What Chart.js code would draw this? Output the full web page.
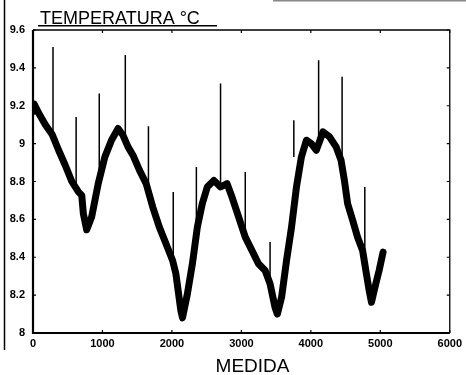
<!DOCTYPE html>
<html>
<head>
<meta charset="utf-8">
<script src="https://cdn.jsdelivr.net/npm/chart.js@4/dist/chart.umd.min.js"></script>
<style>
  html, body { margin: 0; padding: 0; background: #fff; }
  canvas { display: block; }
</style>
</head>
<body>
<canvas id="c" width="466" height="375"></canvas>
<script>
// ---- data ----
const measure = [0, 15, 83, 178, 274, 369, 464, 559, 654, 702, 725, 773, 844, 939, 1035, 1130, 1225, 1296, 1368, 1439, 1534, 1629, 1724, 1819, 1915, 2010, 2057, 2128, 2152, 2223, 2295, 2366, 2437, 2509, 2604, 2700, 2794, 2865, 2961, 3056, 3151, 3246, 3342, 3413, 3484, 3518, 3579, 3650, 3722, 3793, 3864, 3936, 4007, 4078, 4150, 4174, 4269, 4364, 4435, 4483, 4530, 4602, 4673, 4745, 4792, 4840, 4873, 4935, 4983, 5040];
const temperature = [9.17, 9.21, 9.16, 9.10, 9.05, 8.965, 8.886, 8.80, 8.745, 8.727, 8.63, 8.545, 8.612, 8.789, 8.93, 9.018, 9.08, 9.044, 8.983, 8.939, 8.859, 8.789, 8.665, 8.559, 8.471, 8.383, 8.313, 8.12, 8.08, 8.207, 8.366, 8.559, 8.683, 8.771, 8.806, 8.771, 8.789, 8.718, 8.612, 8.506, 8.436, 8.366, 8.33, 8.26, 8.136, 8.10, 8.189, 8.383, 8.559, 8.771, 8.93, 9.018, 9.00, 8.965, 9.036, 9.062, 9.036, 8.983, 8.912, 8.806, 8.683, 8.595, 8.506, 8.436, 8.33, 8.224, 8.162, 8.26, 8.33, 8.427];
const spikeAt   = [288, 621, 954, 1329, 1662, 2019, 2352, 2700, 3056, 3413, 3755, 4112, 4450, 4777];
const spikeLow  = [9.05, 8.76, 8.79, 9.04, 8.79, 8.38, 8.55, 8.78, 8.50, 8.26, 8.93, 9.03, 8.93, 8.33];
const spikeHigh = [9.51, 9.14, 9.265, 9.468, 9.092, 8.745, 8.877, 9.318, 8.85, 8.48, 9.124, 9.44, 9.353, 8.771];
const xTicks = [0, 1000, 2000, 3000, 4000, 5000, 6000];
const yTicks = [8, 8.2, 8.4, 8.6, 8.8, 9, 9.2, 9.4, 9.6];
const chartTitle = 'TEMPERATURA °C';
const xTitle = 'MEDIDA';

// ---- build datasets ----
const bandData = measure.map((m, i) => ({ x: m, y: temperature[i] }));
const spikeData = [];
spikeAt.forEach((m, i) => {
  spikeData.push({ x: m, y: spikeLow[i] });
  spikeData.push({ x: m, y: spikeHigh[i] });
  spikeData.push({ x: m, y: null });
});

const decor = {
  id: 'decor',
  beforeDraw(chart) {
    const ctx = chart.ctx;
    ctx.save();
    ctx.fillStyle = '#fff';
    ctx.fillRect(0, 0, chart.width, chart.height);
    // scan edge lines
    ctx.strokeStyle = '#000';
    ctx.lineWidth = 1.5;
    ctx.beginPath(); ctx.moveTo(4.5, 0); ctx.lineTo(4.5, 350); ctx.stroke();
    ctx.strokeStyle = '#888';
    ctx.beginPath(); ctx.moveTo(273, 0.75); ctx.lineTo(466, 0.75); ctx.stroke();
    ctx.restore();
  },
  afterDraw(chart) {
    const ctx = chart.ctx;
    const { left, right, top, bottom } = chart.chartArea;
    const xs = chart.scales.x, ys = chart.scales.y;
    ctx.save();
    ctx.strokeStyle = '#000';
    // frame
    ctx.lineWidth = 2.2;
    ctx.beginPath(); ctx.moveTo(left, top); ctx.lineTo(left, bottom); ctx.lineTo(right, bottom); ctx.stroke();
    ctx.lineWidth = 1.3;
    ctx.beginPath(); ctx.moveTo(left, top); ctx.lineTo(right, top); ctx.lineTo(right, bottom); ctx.stroke();
    // inward ticks
    ctx.lineWidth = 1.2;
    ctx.beginPath();
    ys.ticks.forEach(t => {
      const y = ys.getPixelForValue(t.value);
      ctx.moveTo(left, y); ctx.lineTo(left + 3, y);
      ctx.moveTo(right, y); ctx.lineTo(right - 3, y);
    });
    xs.ticks.forEach(t => {
      const x = xs.getPixelForValue(t.value);
      ctx.moveTo(x, bottom); ctx.lineTo(x, bottom - 3);
      ctx.moveTo(x, top); ctx.lineTo(x, top + 3);
    });
    ctx.stroke();
    // title
    ctx.fillStyle = '#000';
    ctx.font = '18px "Liberation Sans", Arial, sans-serif';
    ctx.textAlign = 'left';
    ctx.textBaseline = 'alphabetic';
    ctx.fillText(chartTitle, 40, 24);
    ctx.fillRect(38, 25, 179, 1.5);
    // x axis title
    ctx.font = '19px "Liberation Sans", Arial, sans-serif';
    ctx.textAlign = 'center';
    ctx.fillText(xTitle, 252.5, 372);
    ctx.restore();
  }
};

new Chart(document.getElementById('c'), {
  type: 'line',
  data: {
    datasets: [
      {
        data: bandData,
        borderColor: '#000',
        backgroundColor: '#000',
        borderWidth: 7,
        borderJoinStyle: 'round',
        borderCapStyle: 'round',
        pointRadius: 0,
        tension: 0,
        fill: false
      },
      {
        data: spikeData,
        borderColor: '#000',
        borderWidth: 1.5,
        pointRadius: 0,
        spanGaps: false,
        tension: 0,
        fill: false
      }
    ]
  },
  options: {
    responsive: false,
    devicePixelRatio: 1,
    animation: false,
    layout: { padding: { left: 0, right: 13, top: 30, bottom: 0 } },
    plugins: { legend: { display: false }, tooltip: { enabled: false }, title: { display: false } },
    scales: {
      x: {
        type: 'linear',
        min: 0, max: 6000,
        afterBuildTicks: s => { s.ticks = xTicks.map(v => ({ value: v })); },
        ticks: {
          color: '#000',
          font: { family: '"Liberation Sans", Arial, sans-serif', size: 11, weight: 'bold' },
          padding: 4,
          maxRotation: 0,
          autoSkip: false,
          callback: v => String(v)
        },
        grid: { display: false, drawTicks: false },
        border: { display: false },
        afterFit: s => { s.height = 42; }
      },
      y: {
        type: 'linear',
        min: 8, max: 9.6,
        afterBuildTicks: s => { s.ticks = yTicks.map(v => ({ value: v })); },
        ticks: {
          color: '#000',
          font: { family: '"Liberation Sans", Arial, sans-serif', size: 11, weight: 'bold' },
          padding: 8,
          autoSkip: false,
          callback: v => String(Number(v.toFixed(1)))
        },
        grid: { display: false, drawTicks: false },
        border: { display: false },
        afterFit: s => { s.width = 33; }
      }
    }
  },
  plugins: [decor]
});
</script>
</body>
</html>
